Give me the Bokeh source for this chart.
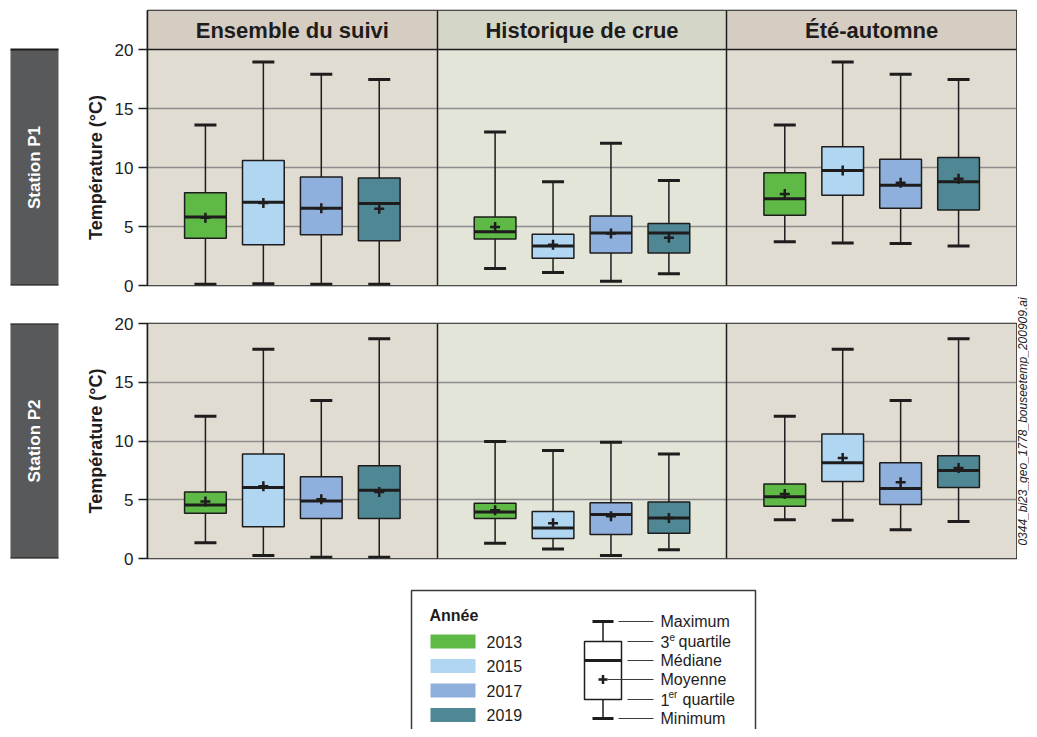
import math
from bokeh.plotting import figure
from bokeh.layouts import column, row
from bokeh.models import Range1d, FixedTicker, ColumnDataSource
from bokeh.transform import dodge
from bokeh.core.properties import value
from bokeh.embed import file_html
from bokeh.resources import INLINE

# ---------------- data ----------------
periods = ["Ensemble du suivi", "Historique de crue", "Été-automne"]
years = ["2013", "2015", "2017", "2019"]
colors = ["#5fb946", "#b0d6f1", "#8fb0dc", "#4f8795"]
stations = ["Station P1", "Station P2"]
y_ticks = [0, 5, 10, 15, 20]
grid_values = [5, 10, 15]

# Station P1 : [period][year]
p1_min = [[0.1, 0.15, 0.1, 0.1], [1.45, 1.1, 0.35, 1.0], [3.7, 3.6, 3.55, 3.35]]
p1_q1 = [[4.0, 3.45, 4.3, 3.8], [3.95, 2.3, 2.75, 2.75], [5.95, 7.65, 6.55, 6.4]]
p1_med = [[5.8, 7.05, 6.55, 6.95], [4.55, 3.35, 4.45, 4.45], [7.35, 9.75, 8.5, 8.8]]
p1_mean = [[5.75, 7.0, 6.55, 6.5], [4.95, 3.45, 4.4, 4.05], [7.75, 9.75, 8.7, 9.05]]
p1_q3 = [[7.85, 10.6, 9.2, 9.1], [5.8, 4.35, 5.9, 5.25], [9.55, 11.75, 10.7, 10.85]]
p1_max = [[13.6, 18.95, 17.9, 17.45], [13.0, 8.8, 12.05, 8.9], [13.6, 18.95, 17.9, 17.45]]

# Station P2 : [period][year]
p2_min = [[1.35, 0.25, 0.1, 0.1], [1.3, 0.8, 0.25, 0.75], [3.3, 3.25, 2.45, 3.15]]
p2_q1 = [[3.85, 2.7, 3.4, 3.4], [3.4, 1.7, 2.05, 2.15], [4.45, 6.55, 4.6, 6.05]]
p2_med = [[4.55, 6.05, 4.9, 5.8], [3.95, 2.6, 3.75, 3.45], [5.25, 8.15, 5.95, 7.5]]
p2_mean = [[4.85, 6.15, 5.05, 5.65], [4.1, 3.0, 3.6, 3.45], [5.5, 8.55, 6.5, 7.7]]
p2_q3 = [[5.65, 8.9, 6.95, 7.9], [4.7, 4.0, 4.75, 4.8], [6.35, 10.6, 8.15, 8.75]]
p2_max = [[12.1, 17.8, 13.45, 18.7], [9.95, 9.2, 9.9, 8.9], [12.1, 17.8, 13.45, 18.7]]

legend_labels = ["Maximum", "3", "Médiane", "Moyenne", "1", "Minimum"]
file_name = "0344_bi23_geo_1778_bouseetemp_200909.ai"

# ---------------- style ----------------
FONT = value("Liberation Sans")
INK = "#1e1c1d"
panel_bg = ["#e0dcd2", "#e2e5d8", "#e0dcd2"]
header_bg = ["#d5ccc2", "#d4d7c7", "#d5ccc2"]
GROUP = 5
BOX_W = 0.72
PX_PER_UNIT = 11.8
SIDE_W = 108
MAIN_W = 909
NAME_W = 12
TOTAL_W = SIDE_W + MAIN_W + NAME_W
ROWS_H = 568
LEG_H = 161


def build_source(mins, q1, med, mean, q3, maxs):
    d = dict(x=[], lo=[], q1=[], med=[], mean=[], q3=[], hi=[], color=[])
    for pi in range(len(periods)):
        for yi in range(len(years)):
            d["x"].append(pi * GROUP + yi + 1)
            d["lo"].append(mins[pi][yi])
            d["q1"].append(q1[pi][yi])
            d["med"].append(med[pi][yi])
            d["mean"].append(mean[pi][yi])
            d["q3"].append(q3[pi][yi])
            d["hi"].append(maxs[pi][yi])
            d["color"].append(colors[yi])
    return ColumnDataSource(d)


def make_row(station, src, header, frame_h, top_pad, bottom_pad):
    y_top = frame_h / PX_PER_UNIT if header else 20
    h = top_pad + frame_h + bottom_pad

    side = figure(width=SIDE_W, height=h, x_range=Range1d(0, SIDE_W), y_range=Range1d(0, y_top),
                  min_border_left=0, min_border_right=0, min_border_top=top_pad,
                  min_border_bottom=bottom_pad, x_axis_location=None, y_axis_location=None,
                  toolbar_location=None, output_backend="svg", outline_line_color=None)
    side.xgrid.visible = False
    side.ygrid.visible = False
    side.quad(left=10, right=58, bottom=0, top=20, fill_color="#58595b", line_color=None)
    side.segment(x0=[10, 10], x1=[58, 58], y0=[0, 20], y1=[0, 20], line_color=INK, line_width=2)
    side.text(x=[34], y=[10], text=[station], angle=math.pi / 2, text_align="center",
              text_baseline="middle", text_color="white", text_font=FONT,
              text_font_style="bold", text_font_size="17px")
    side.text(x=[95], y=[10], text=["Température (°C)"], angle=math.pi / 2, text_align="center",
              text_baseline="middle", text_color=INK, text_font=FONT,
              text_font_style="bold", text_font_size="18px")

    p = figure(width=MAIN_W, height=h, x_range=Range1d(0, GROUP * len(periods)),
               y_range=Range1d(0, y_top), min_border_left=39, min_border_right=1,
               min_border_top=top_pad, min_border_bottom=bottom_pad,
               x_axis_location=None, toolbar_location=None, output_backend="svg")
    p.xgrid.visible = False
    p.ygrid.visible = False
    p.outline_line_color = INK
    p.outline_line_width = 1.5
    p.background_fill_color = "white"

    lefts = [i * GROUP for i in range(len(periods))]
    rights = [(i + 1) * GROUP for i in range(len(periods))]
    p.quad(left=lefts, right=rights, bottom=0, top=20, fill_color=panel_bg, line_color=None)
    if header:
        p.quad(left=lefts, right=rights, bottom=20, top=y_top, fill_color=header_bg, line_color=None)
        p.text(x=[(l + r) / 2 for l, r in zip(lefts, rights)], y=[(20 + y_top) / 2] * 3,
               text=periods, text_align="center", text_baseline="middle", text_color=INK,
               text_font=FONT, text_font_style="bold", text_font_size="22px")
        p.hspan(y=[20], line_color=INK, line_width=1.5)
    p.hspan(y=grid_values, line_color="#8d8d8d", line_width=1.3)
    p.vspan(x=rights[:-1], line_color=INK, line_width=1.5)

    # whiskers, caps, boxes, medians, means
    p.segment(x0="x", x1="x", y0="lo", y1="hi", source=src, line_color=INK, line_width=1.5)
    p.scatter(x="x", y="hi", source=src, marker="dash", size=22, line_color=INK, line_width=3)
    p.scatter(x="x", y="lo", source=src, marker="dash", size=22, line_color=INK, line_width=3)
    p.vbar(x="x", width=BOX_W, bottom="q1", top="q3", source=src, fill_color="color",
           line_color=INK, line_width=1.5)
    p.segment(x0=dodge("x", -BOX_W / 2), x1=dodge("x", BOX_W / 2), y0="med", y1="med",
              source=src, line_color=INK, line_width=3)
    p.scatter(x="x", y="mean", source=src, marker="cross", size=10, line_color=INK, line_width=2.5)

    ax = p.yaxis[0]
    ax.ticker = FixedTicker(ticks=y_ticks)
    ax.axis_line_color = INK
    ax.axis_line_width = 1.5
    ax.major_tick_in = 0
    ax.major_tick_out = 9
    ax.major_tick_line_color = INK
    ax.major_tick_line_width = 1.5
    ax.minor_tick_line_color = None
    ax.major_label_standoff = 5
    ax.major_label_text_font = "Liberation Sans"
    ax.major_label_text_font_size = "17px"
    ax.major_label_text_color = INK
    return row(side, p)


row1 = make_row(stations[0], build_source(p1_min, p1_q1, p1_med, p1_mean, p1_q3, p1_max),
                True, 275, 10, 15)
row2 = make_row(stations[1], build_source(p2_min, p2_q1, p2_med, p2_mean, p2_q3, p2_max),
                False, 235, 23, 10)

# file name, rotated, at the right edge
nf = figure(width=NAME_W, height=ROWS_H, x_range=Range1d(0, NAME_W), y_range=Range1d(ROWS_H, 0),
            min_border=0, x_axis_location=None, y_axis_location=None, toolbar_location=None,
            output_backend="svg", outline_line_color=None)
nf.xgrid.visible = False
nf.ygrid.visible = False
nf.text(x=[5.5], y=[421], text=[file_name], angle=math.pi / 2, text_align="center",
        text_baseline="middle", text_color=INK, text_font=FONT, text_font_style="italic",
        text_font_size="12px")

# ---------------- legend (pixel coordinates, y downward) ----------------
lg = figure(width=TOTAL_W, height=LEG_H, x_range=Range1d(0, TOTAL_W),
            y_range=Range1d(ROWS_H + LEG_H, ROWS_H), min_border=0, x_axis_location=None,
            y_axis_location=None, toolbar_location=None, output_backend="svg",
            outline_line_color=None)
lg.xgrid.visible = False
lg.ygrid.visible = False
lg.quad(left=411, right=755, top=590, bottom=780, fill_color="white", line_color="#3a3a3a", line_width=1.5)
lg.text(x=[429], y=[615], text=["Année"], text_align="left", text_baseline="middle",
        text_color=INK, text_font=FONT, text_font_style="bold", text_font_size="16px")
sw_y = [641 + 24.5 * i for i in range(len(years))]
lg.rect(x=452.5, y=sw_y, width=45, height=14, fill_color=colors, line_color=None)
lg.text(x=[486] * len(years), y=sw_y, text=years, text_align="left", text_baseline="middle",
        text_color=INK, text_font=FONT, text_font_size="16px")

# schematic box
lg.segment(x0=[602.5], x1=[602.5], y0=[621], y1=[718], line_color=INK, line_width=1.5)
lg.segment(x0=[592, 592], x1=[613, 613], y0=[621, 718], y1=[621, 718], line_color=INK, line_width=3)
lg.quad(left=584, right=621, top=641, bottom=699, fill_color="white", line_color=INK, line_width=1.5)
lg.segment(x0=[584], x1=[621], y0=[660], y1=[660], line_color=INK, line_width=3)
lg.scatter(x=[602.5], y=[679], marker="cross", size=9, line_color=INK, line_width=2.5)
lab_y = [621, 641, 660, 679, 699, 718]
lg.segment(x0=[618, 627, 627, 607, 627, 618], x1=[653] * 6, y0=lab_y, y1=lab_y,
           line_color="#3a3a3a", line_width=1)
lg.text(x=[660] * 6, y=lab_y, text=legend_labels, text_align="left", text_baseline="middle",
        text_color=INK, text_font=FONT, text_font_size="16px")
lg.text(x=[669, 668], y=[636, 694], text=["e", "er"], text_align="left", text_baseline="middle",
        text_color=INK, text_font=FONT, text_font_size="10px")
lg.text(x=[678, 682], y=[641, 699], text=["quartile", "quartile"], text_align="left",
        text_baseline="middle", text_color=INK, text_font=FONT, text_font_size="16px")

layout = column(row(column(row1, row2), nf), lg)
open("out.html", "w").write(file_html(layout, INLINE))
